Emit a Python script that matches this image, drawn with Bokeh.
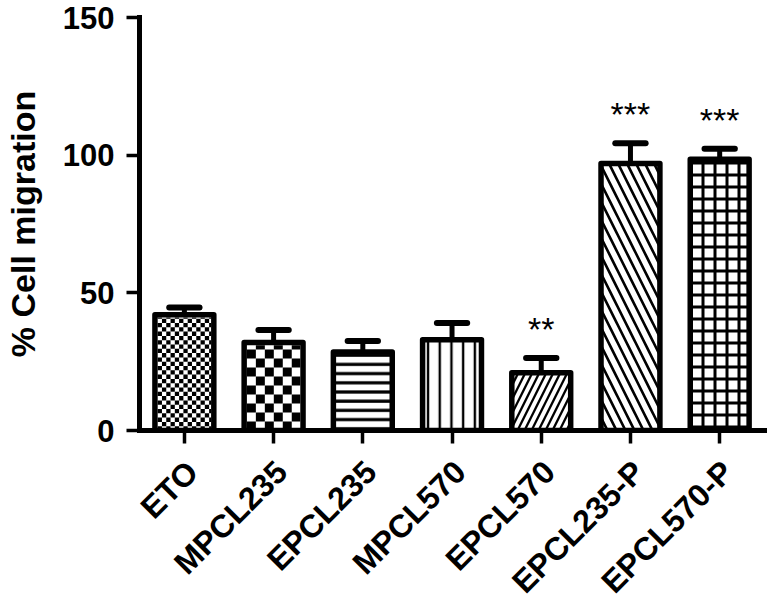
import numpy as np
from bokeh.plotting import figure
from bokeh.layouts import column
from bokeh.models import ColumnDataSource, FixedTicker, Range1d
from bokeh.core.properties import value
from bokeh.embed import file_html
from bokeh.resources import INLINE

# ---------------- data ----------------
categories = ["ETO", "MPCL235", "EPCL235", "MPCL570", "EPCL570", "EPCL235-P", "EPCL570-P"]
means = [42.0, 32.0, 28.5, 33.0, 21.0, 97.0, 98.5]
sem = [2.7, 4.5, 4.0, 6.0, 5.3, 7.3, 3.8]
stars = ["", "", "", "", "**", "***", "***"]
y_ticks = [0, 50, 100, 150]

# ---------------- styles ----------------
patterns = [" ", " ", "-", "|", "/", "\\", "+"]
hatch_scales = [8, 8, 9.2, 11.7, 14.0, 18.0, 12.0]
hatch_weights = [1, 1, 3.2, 2.4, 2.3, 2.6, 3.0]
checker_px = [4.3, 9.0, 0, 0, 0, 0, 0]  # checkerboard square size (px), 0 = none

FONT = "Liberation Sans"
W = 767
H_TOP = 448          # bar panel
H_LBL = 158          # category-label strip below it
B_LEFT, B_TOP, B_BOTTOM = 137, 17, 18
X0, X1 = -0.503, 6.536
Y0, Y1 = 0, 150
BAR_W = 0.66
LW = 5.5
TICK_OUT = 13
LABEL_DROP = 18      # px from strip top to label end

frame_w = W - B_LEFT
frame_h = H_TOP - B_TOP - B_BOTTOM
px_x = frame_w / (X1 - X0)
px_y = frame_h / (Y1 - Y0)

idx = np.arange(len(categories), dtype=float)
m = np.array(means)
e = np.array(sem)

src = ColumnDataSource(dict(
    x=idx, top=m, pattern=patterns, hs=hatch_scales, hw=hatch_weights,
))

x_range = Range1d(X0, X1)
p = figure(width=W, height=H_TOP, x_range=x_range, y_range=Range1d(Y0, Y1),
           output_backend="svg", toolbar_location=None,
           min_border_left=B_LEFT, min_border_right=0,
           min_border_top=B_TOP, min_border_bottom=B_BOTTOM)
p.outline_line_color = None
p.grid.visible = False
p.background_fill_color = "white"
p.border_fill_color = "white"

# bars with hatch fills
p.vbar(x="x", top="top", bottom=0, width=BAR_W, source=src,
       fill_color="white", line_color=None,
       hatch_pattern="pattern", hatch_scale="hs", hatch_weight="hw",
       hatch_color="black")

# checkerboard fills computed from the bar extents
ql, qr, qb, qt = [], [], [], []
for i, s in enumerate(checker_px):
    if not s:
        continue
    sx, sy = s / px_x, s / px_y
    left = idx[i] - BAR_W / 2 + (LW / 2) / px_x
    right = idx[i] + BAR_W / 2 - (LW / 2) / px_x
    top = m[i] - (LW / 2) / px_y
    ncol = int(np.ceil((right - left) / sx))
    nrow = int(np.ceil(top / sy))
    for c in range(ncol):
        for r in range(nrow):
            if (c + r) % 2 == 0:
                ql.append(left + c * sx)
                qr.append(min(left + (c + 1) * sx, right))
                qb.append(r * sy)
                qt.append(min((r + 1) * sy, top))
p.quad(left=ql, right=qr, bottom=qb, top=qt, fill_color="black", line_color=None)

# outlines
p.vbar(x="x", top="top", bottom=0, width=BAR_W, source=src,
       fill_alpha=0, line_color="black", line_width=LW, line_join="round")

# error bars (upper only)
CAP = 0.17
p.segment(x0=idx, y0=m, x1=idx, y1=m + e, line_color="black", line_width=5)
p.segment(x0=idx - CAP, y0=m + e, x1=idx + CAP, y1=m + e,
          line_color="black", line_width=6, line_cap="round")

# significance stars
p.text(x=idx, y=m + e, text=stars, text_align="center", text_baseline="middle",
       y_offset=-29, text_font=value(FONT), text_font_size="34px",
       text_color="black")

# x axis: ticks only (as minor ticks, which carry no labels)
p.xaxis.ticker = FixedTicker(ticks=[], minor_ticks=list(range(len(categories))))
p.xaxis.minor_tick_line_width = 3.5
p.xaxis.minor_tick_line_color = "black"
p.xaxis.minor_tick_in = 0
p.xaxis.minor_tick_out = TICK_OUT

# y axis
p.yaxis.ticker = FixedTicker(ticks=y_ticks, minor_ticks=[])
p.yaxis.axis_label = "% Cell migration"
p.yaxis.major_tick_line_width = 3.5
p.yaxis.major_tick_line_color = "black"
p.yaxis.major_tick_in = 0
p.yaxis.major_tick_out = TICK_OUT
p.yaxis.minor_tick_line_color = None
p.yaxis.major_label_text_font = FONT
p.yaxis.major_label_text_font_style = "bold"
p.yaxis.major_label_text_color = "black"
p.yaxis.major_label_text_font_size = "31px"
p.yaxis.major_label_standoff = 12
p.yaxis.axis_label_text_font = FONT
p.yaxis.axis_label_text_font_style = "bold"
p.yaxis.axis_label_text_color = "black"
p.yaxis.axis_label_text_font_size = "34px"
p.yaxis.axis_label_standoff = 18

for ax in (p.xaxis, p.yaxis):
    ax.axis_line_width = 5
    ax.axis_line_color = "black"
    ax.axis_line_cap = "square"

# ---------------- category label strip (shares the x range and left border) ----------------
q = figure(width=W, height=H_LBL, x_range=x_range,
           y_range=Range1d(0, H_LBL), x_axis_type=None, y_axis_type=None,
           output_backend="svg", toolbar_location=None,
           min_border_left=B_LEFT, min_border_right=0,
           min_border_top=0, min_border_bottom=0)
q.grid.visible = False
q.outline_line_color = None
q.background_fill_color = "white"
q.border_fill_color = "white"
q.text(x=idx, y=np.full(len(categories), H_LBL - LABEL_DROP), text=categories,
       angle=np.pi / 4, text_align="right", text_baseline="middle", x_offset=8,
       text_font=value(FONT), text_font_style="bold", text_font_size="32px",
       text_color="black")

layout = column(p, q, spacing=0)
open("out.html", "w").write(file_html(layout, INLINE))
